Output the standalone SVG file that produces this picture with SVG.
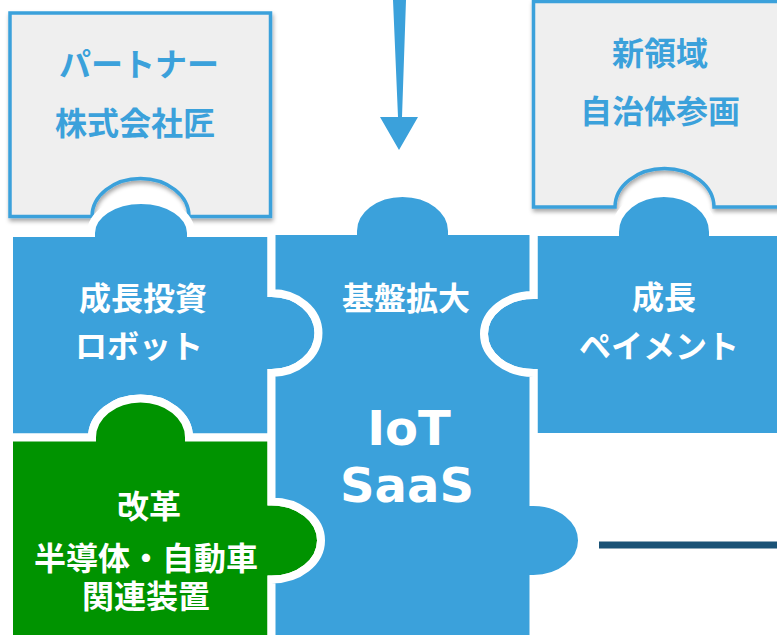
<svg xmlns="http://www.w3.org/2000/svg" width="777" height="635" viewBox="0 0 777 635">
<defs>
<filter id="sh" x="-10%" y="-10%" width="120%" height="130%">
<feDropShadow dx="1" dy="3" stdDeviation="2" flood-color="#000" flood-opacity="0.35"/>
</filter>
<style>
.grey{fill:#efefef;stroke:#3ba1db;stroke-width:3.5;filter:url(#sh)}
.blue{fill:#3ba1db;stroke:#fff;stroke-width:8}
.green{fill:#009300;stroke:#fff;stroke-width:8}
.jp{font-family:"Noto Sans CJK JP","Noto Sans",sans-serif;font-weight:bold;font-size:32px;text-anchor:middle}
.bt{fill:#3ba1db}
.wt{fill:#fff}
.lat{font-family:"DejaVu Sans",sans-serif;font-weight:bold;font-size:48px;text-anchor:middle;fill:#fff}
</style>
</defs>
<rect width="777" height="635" fill="#fff"/>
<g id="partner">
<path class="grey" d="M10,13 H270.5 V216.5 H189 A48.5 38 0 0 0 92 216.5 H10 Z"/>
<text class="jp bt" x="139" y="76">パートナー</text>
<text class="jp bt" x="135" y="135">株式会社匠</text>
</g>
<g id="shinryouiki">
<path class="grey" d="M533.5,1.5 H790 V207 H714 A49.5 38.5 0 0 0 615 207 H533.5 Z"/>
<text class="jp bt" x="660" y="65">新領域</text>
<text class="jp bt" x="660" y="123">自治体参画</text>
</g>
<g id="seichou-toushi">
<path class="blue" d="M9,233 H91 A50 33 0 0 1 191 233 H271.5 V293 A47 40 0 0 1 271.5 373 V437.5 H189 A48.5 39 0 0 0 92 437.5 H9 Z"/>
<text class="jp wt" x="143" y="310">成長投資</text>
<text class="jp wt" x="139" y="358">ロボット</text>
</g>
<g id="seichou-payment">
<path class="blue" d="M533.5,232 H615 A49 39 0 0 1 713 232 H790 V437 H533.5 V373 A49.5 39 0 0 1 533.5 295 Z"/>
<text class="jp wt" x="664" y="309">成長</text>
<text class="jp wt" x="659" y="358">ペイメント</text>
</g>
<g id="kaikaku">
<path class="green" d="M9,437.5 H92 A48.5 39 0 0 1 189 437.5 H271.5 V501.5 A49.5 39 0 0 1 271.5 579.5 V645 H9 Z"/>
<text class="jp wt" x="149" y="518">改革</text>
<text class="jp wt" x="146" y="570">半導体・自動車</text>
<text class="jp wt" x="146" y="608">関連装置</text>
</g>
<g id="kiban-kakudai">
<path class="blue" d="M271.5,231 H353 A49.5 38 0 0 1 452 231 H533.5 V295 A49.5 39 0 0 0 533.5 373 V502 A48.5 38.5 0 0 1 533.5 579 V645 H271.5 V579.5 A49.5 39 0 0 0 271.5 501.5 V373 A47 40 0 0 0 271.5 293 Z"/>
<text class="jp wt" x="406" y="310">基盤拡大</text>
<text class="lat" x="409" y="445">IoT</text>
<text class="lat" x="407" y="502">SaaS</text>
</g>
<g id="connectors">
<path d="M393,0 L406,0 L402,117 L418,117 L399,150 L380,117 L398,117 Z" fill="#3ba1db"/>
<line x1="599" y1="545" x2="777" y2="545" stroke="#1a5276" stroke-width="7"/>
</g>
</svg>
